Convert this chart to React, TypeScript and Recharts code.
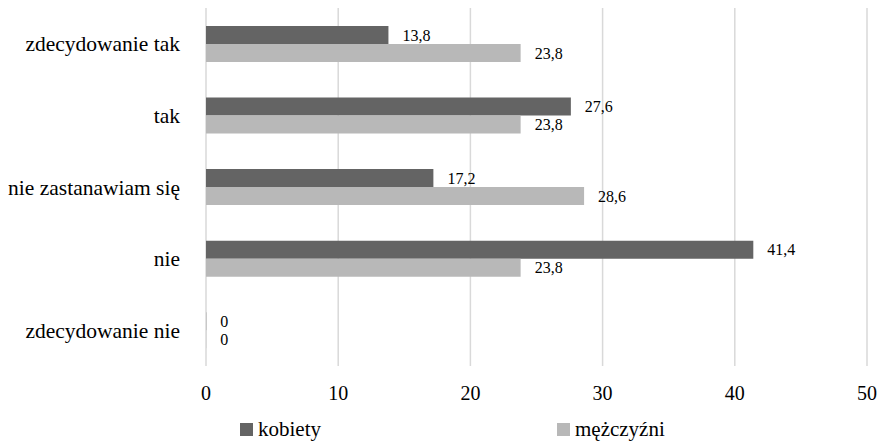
import { BarChart, Bar, XAxis, YAxis, CartesianGrid, Legend, LabelList } from 'recharts';

const categories = ['zdecydowanie tak', 'tak', 'nie zastanawiam się', 'nie', 'zdecydowanie nie'];
const kobiety = [13.8, 27.6, 17.2, 41.4, 0];
const mezczyzni = [23.8, 23.8, 28.6, 23.8, 0];
const xTicks = [0, 10, 20, 30, 40, 50];

const data = categories.map((name, i) => ({ name, kobiety: kobiety[i], mezczyzni: mezczyzni[i] }));

const font = 'Liberation Serif';
const fmt = (v: unknown) => String(v).replace('.', ',');
// zero-value bars still need a tiny rect so their "0" labels get drawn
const zeroSize = (v: unknown) => (v === 0 ? 0.2 : 0);

function LegendContent() {
  const items = [
    { label: 'kobiety', color: '#646464', left: 240 },
    { label: 'mężczyźni', color: '#b8b8b8', left: 557 },
  ];
  return (
    <div style={{ position: 'relative', height: 34, fontFamily: font, fontSize: 21, color: '#000' }}>
      {items.map((it) => (
        <div key={it.label} style={{ position: 'absolute', left: it.left, top: 7, display: 'flex', alignItems: 'center' }}>
          <span style={{ width: 13, height: 13, background: it.color, display: 'inline-block', marginRight: 5 }} />
          <span>{it.label}</span>
        </div>
      ))}
    </div>
  );
}

export default function App() {
  return (
    <div style={{ position: 'absolute', left: 0, top: 0, background: '#fff', fontFamily: font }}>
      <BarChart
        width={885}
        height={444}
        data={data}
        layout="vertical"
        margin={{ top: 8, right: 18, bottom: 0, left: 0 }}
        barCategoryGap="25%"
        barGap={0}
      >
        <CartesianGrid horizontal={false} stroke="#d9d9d9" strokeWidth={1.5} />
        <XAxis
          type="number"
          domain={[0, 50]}
          ticks={xTicks}
          axisLine={false}
          tickLine={false}
          tickSize={0}
          tickMargin={20}
          height={44}
          tick={{ fill: '#000', fontSize: 20, fontFamily: font }}
        />
        <YAxis
          type="category"
          dataKey="name"
          width={206}
          axisLine={false}
          tickLine={false}
          tickSize={0}
          tickMargin={26}
          tick={{ fill: '#000', fontSize: 21.5, fontFamily: font }}
        />
        <Legend verticalAlign="bottom" height={34} content={() => <LegendContent />} />
        <Bar dataKey="kobiety" fill="#646464" minPointSize={zeroSize} isAnimationActive={false}>
          <LabelList dataKey="kobiety" position="right" offset={14} formatter={fmt} style={{ fill: '#000', fontSize: 16, fontFamily: font }} />
        </Bar>
        <Bar dataKey="mezczyzni" fill="#b8b8b8" minPointSize={zeroSize} isAnimationActive={false}>
          <LabelList dataKey="mezczyzni" position="right" offset={14} formatter={fmt} style={{ fill: '#000', fontSize: 16, fontFamily: font }} />
        </Bar>
      </BarChart>
    </div>
  );
}
